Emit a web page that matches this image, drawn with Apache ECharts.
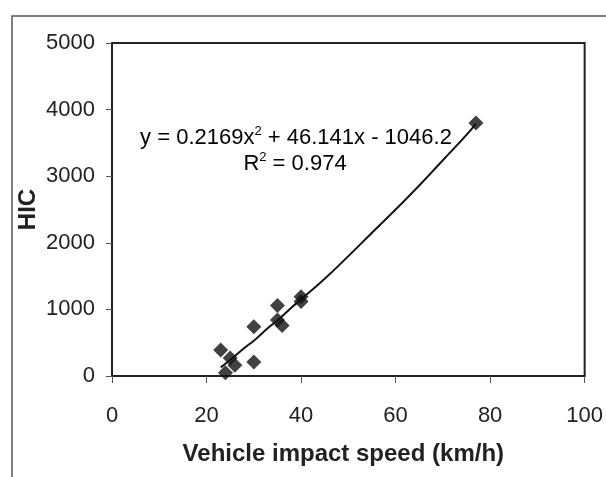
<!DOCTYPE html>
<html>
<head>
<meta charset="utf-8">
<script src="https://cdn.jsdelivr.net/npm/echarts@6/dist/echarts.min.js"></script>
<style>
html,body{margin:0;padding:0;background:#fff;}
#chart{width:606px;height:477px;}
</style>
</head>
<body>
<div id="chart"></div>
<script>
// Measured points (vehicle impact speed km/h, HIC)
const speed = [23, 24, 25, 26, 30, 30, 35, 35, 36, 40, 40, 77];
const hic   = [390, 50, 270, 160, 740, 210, 1060, 840, 760, 1190, 1120, 3800];
// Trend line
const trendSpeed = [23, 25, 28, 30, 33, 35, 38, 40, 45, 50, 55, 60, 65, 70, 75, 77];
const trendHic   = [130, 240, 420, 530, 720, 835, 1030, 1150, 1460, 1800, 2150, 2500, 2860, 3240, 3620, 3790];
const xTicks = [0, 20, 40, 60, 80, 100];
const yTicks = [0, 1000, 2000, 3000, 4000, 5000];
const eqText = 'y = 0.2169x';
const eqRest = ' + 46.141x - 1046.2';
const r2Text = '0.974';

const FONT = '"Liberation Sans", Arial, sans-serif';
const chart = echarts.init(document.getElementById('chart'));
const rich = {
  a: {fontFamily: FONT, fontSize: 22, color: '#222', lineHeight: 26},
  s: {fontFamily: FONT, fontSize: 13, color: '#222', verticalAlign: 'top', lineHeight: 26, padding: [0, 0, 12, 0]}
};
chart.setOption({
  backgroundColor: '#fff',
  animation: false,
  grid: {left: 112, right: 8, top: 43, bottom: 101, show: true, borderColor: '#222', borderWidth: 2, backgroundColor: 'transparent'},
  xAxis: {
    type: 'value', min: xTicks[0], max: xTicks[xTicks.length - 1], interval: 20,
    name: 'Vehicle impact speed (km/h)', nameLocation: 'middle', nameGap: 66, nameMoveOverlap: false,
    nameTextStyle: {fontFamily: FONT, fontWeight: 'bold', fontSize: 24, color: '#222', padding: [0, 10, 0, 0]},
    axisLine: {lineStyle: {color: '#222', width: 2}},
    axisTick: {show: true, inside: false, length: 7, lineStyle: {color: '#555', width: 1}},
    axisLabel: {margin: 29, fontFamily: FONT, fontSize: 22, color: '#222', showMaxLabel: true, formatter: v => String(v)},
    splitLine: {show: false}
  },
  yAxis: {
    type: 'value', min: yTicks[0], max: yTicks[yTicks.length - 1], interval: 1000,
    name: 'HIC', nameLocation: 'middle', nameGap: 72, nameMoveOverlap: false,
    nameTextStyle: {fontFamily: FONT, fontWeight: 'bold', fontSize: 24, color: '#222'},
    axisLine: {show: true, lineStyle: {color: '#222', width: 2}},
    axisTick: {show: true, inside: false, length: 6, lineStyle: {color: '#555', width: 1}},
    axisLabel: {margin: 17, fontFamily: FONT, fontSize: 22, color: '#222', formatter: v => String(v)},
    splitLine: {show: false}
  },
  graphic: [
    {type: 'rect', silent: true, shape: {x: 12, y: 16, width: 700, height: 600}, style: {fill: 'none', stroke: '#555', lineWidth: 1.5}, z: -10},
    {type: 'text', x: 296, y: 138, style: {
      rich: rich, align: 'center', verticalAlign: 'middle',
      text: '{a|' + eqText + '}{s|2}{a|' + eqRest + '}'
    }},
    {type: 'text', x: 295, y: 164, style: {
      rich: rich, align: 'center', verticalAlign: 'middle',
      text: '{a|R}{s|2}{a| = ' + r2Text + '}'
    }}
  ],
  series: [
    {type: 'line', data: trendSpeed.map((x, i) => [x, trendHic[i]]), smooth: true, symbol: 'none',
     lineStyle: {color: '#111', width: 2}, z: 2},
    {type: 'scatter', data: speed.map((x, i) => [x, hic[i]]), symbol: 'diamond', symbolSize: 15,
     itemStyle: {color: '#111'}, z: 3}
  ]
});
</script>
</body>
</html>
